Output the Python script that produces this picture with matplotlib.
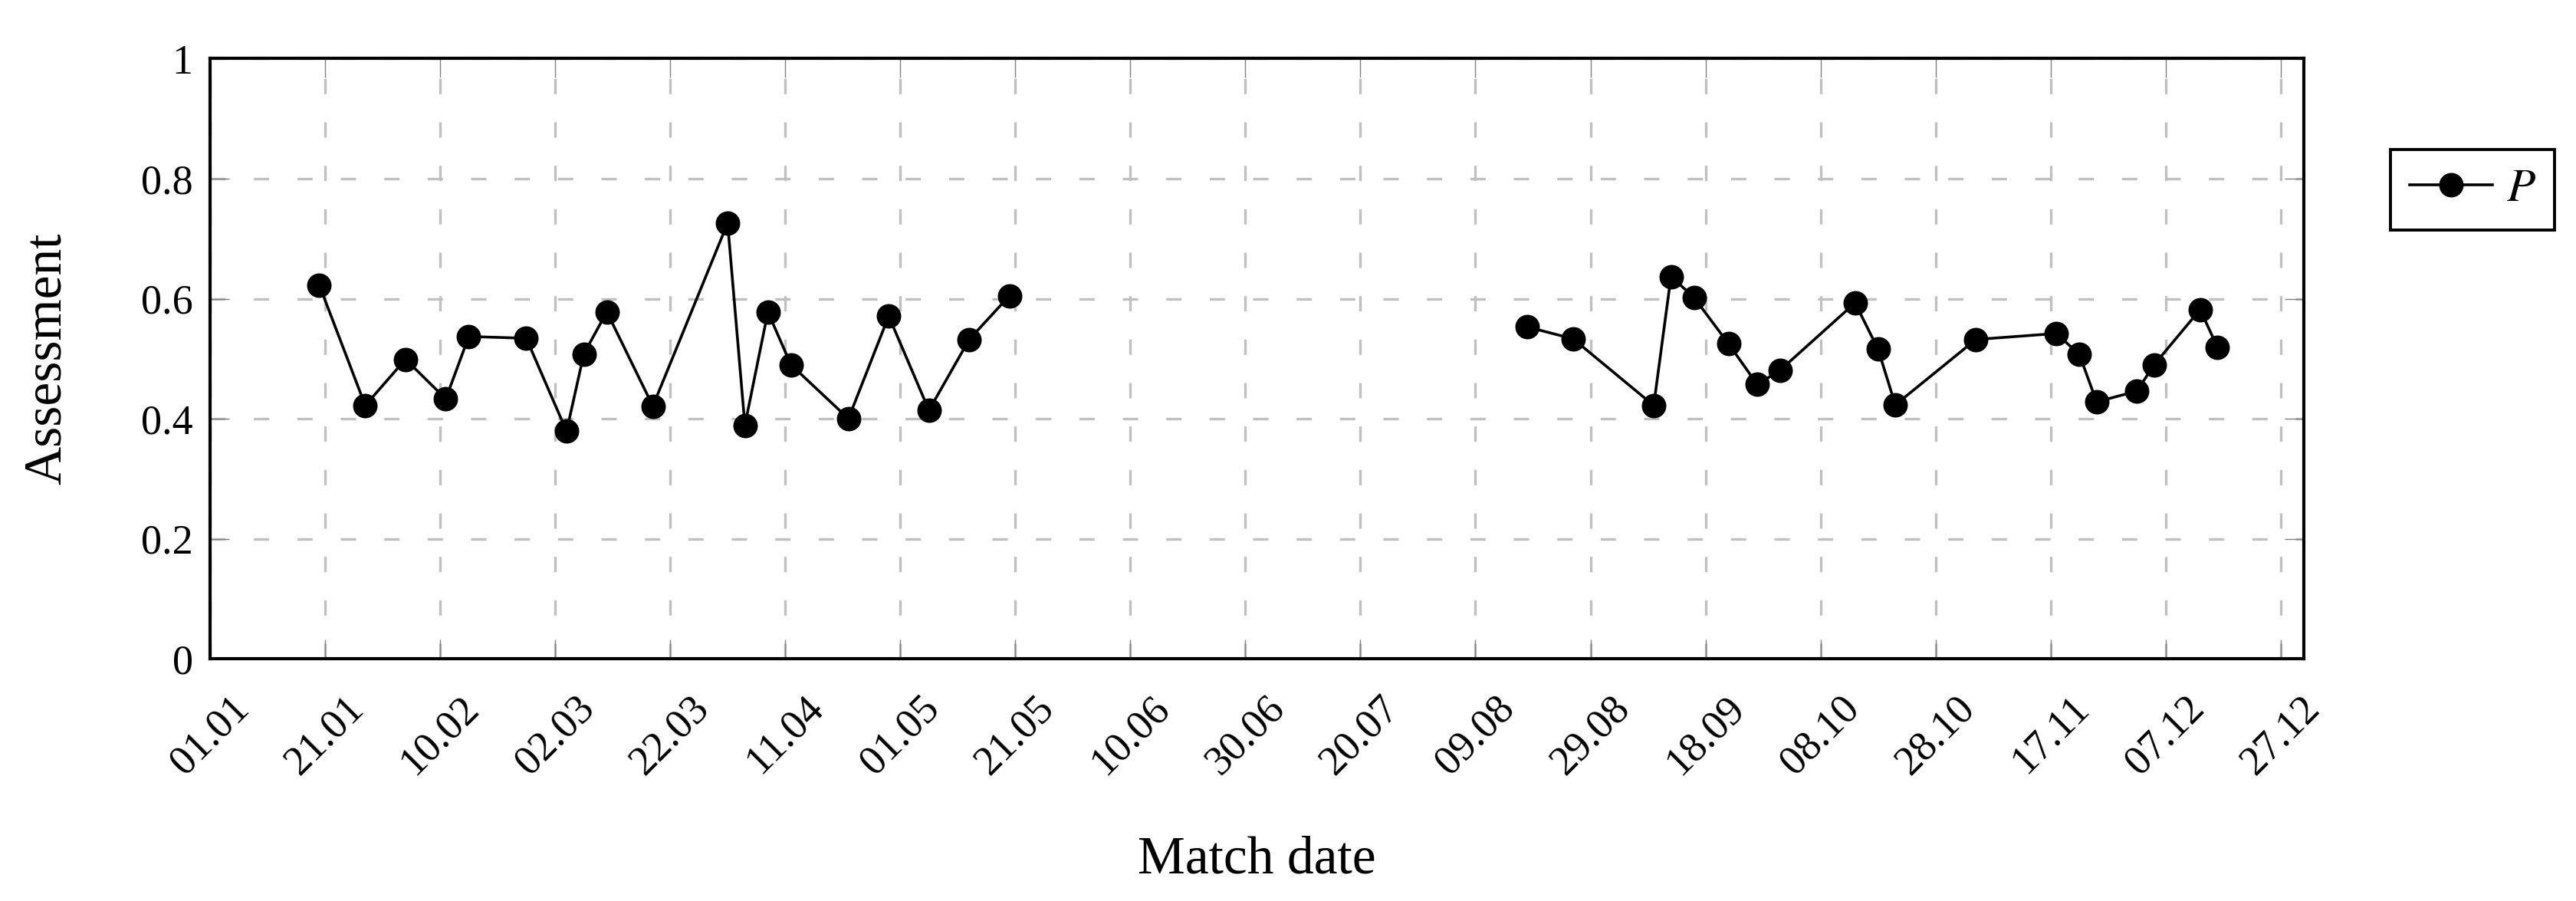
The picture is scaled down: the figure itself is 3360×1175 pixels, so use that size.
import matplotlib
matplotlib.use("Agg")
import matplotlib.pyplot as plt
import matplotlib.dates as mdates
import pandas as pd

# data (non-leap year, dates as DD.MM)
YEAR = 2019
dates_first = ["20.01", "28.01", "04.02", "11.02", "15.02", "25.02", "04.03", "07.03",
               "11.03", "19.03", "01.04", "04.04", "08.04", "12.04", "22.04", "29.04",
               "06.05", "13.05", "20.05"]
values_first = [0.623, 0.422, 0.499, 0.433, 0.537, 0.534, 0.379, 0.508,
                0.578, 0.421, 0.726, 0.389, 0.578, 0.490, 0.400, 0.571,
                0.414, 0.532, 0.605]
dates_second = ["18.08", "26.08", "09.09", "12.09", "16.09", "22.09", "27.09", "01.10",
                "14.10", "18.10", "21.10", "04.11", "18.11", "22.11", "25.11", "02.12",
                "05.12", "13.12", "16.12"]
values_second = [0.553, 0.533, 0.422, 0.637, 0.602, 0.525, 0.457, 0.481,
                 0.593, 0.516, 0.423, 0.532, 0.542, 0.507, 0.428, 0.446,
                 0.490, 0.582, 0.519]
y_ticks = [0, 0.2, 0.4, 0.6, 0.8, 1]
y_tick_labels = ["0", "0.2", "0.4", "0.6", "0.8", "1"]


def to_dates(ds):
    return pd.to_datetime([f"{d}.{YEAR}" for d in ds], format="%d.%m.%Y")


plt.rcParams['font.family'] = ['Liberation Serif', 'DejaVu Serif']
plt.rcParams['mathtext.fontset'] = 'stix'

fig = plt.figure(figsize=(16.8, 5.875), dpi=200)
ax = fig.add_axes([0.0815, 0.2689, 0.8128, 0.666])

style = dict(color='black', lw=1.3, marker='o', markersize=10.5, markerfacecolor='black',
             markeredgecolor='black', zorder=3)
ax.plot(to_dates(dates_first), values_first, label='$P$', **style)
ax.plot(to_dates(dates_second), values_second, **style)

start = pd.Timestamp(f"{YEAR}-01-01")
end = pd.Timestamp(f"{YEAR}-12-31")
ax.set_xlim(start, end)
ax.set_ylim(0, 1)

x_ticks = pd.date_range(start, end, freq='20D')
ax.set_xticks(x_ticks)
ax.xaxis.set_major_formatter(mdates.DateFormatter('%d.%m'))
ax.set_yticks(y_ticks)
ax.set_yticklabels(y_tick_labels)

for lbl in ax.get_xticklabels():
    lbl.set_rotation(45)
    lbl.set_ha('center')
    lbl.set_va('top')

ax.tick_params(axis='both', direction='in', length=9, width=0.5, color='#808080',
               top=True, right=True, labelsize=19.5)
ax.tick_params(axis='x', pad=14)
ax.tick_params(axis='y', pad=8)

ax.grid(True, color='#c0c0c0', lw=1.2, dashes=(6, 11), zorder=0)
ax.set_axisbelow(True)
for sp in ax.spines.values():
    sp.set_linewidth(1.5)

ax.set_xlabel('Match date', fontsize=25)
ax.set_ylabel('Assessment', fontsize=25)
ax.xaxis.set_label_coords(0.5, -0.295)
ax.yaxis.set_label_coords(-0.066, 0.5)

leg = fig.legend(loc='upper left', bbox_to_anchor=(0.928, 0.834), borderaxespad=0,
                 fontsize=22, handlelength=1.77, handletextpad=0.3, borderpad=0.4,
                 fancybox=False, framealpha=1, edgecolor='black')
leg.get_frame().set_linewidth(1.4)

fig.savefig('out.png', dpi=200)
